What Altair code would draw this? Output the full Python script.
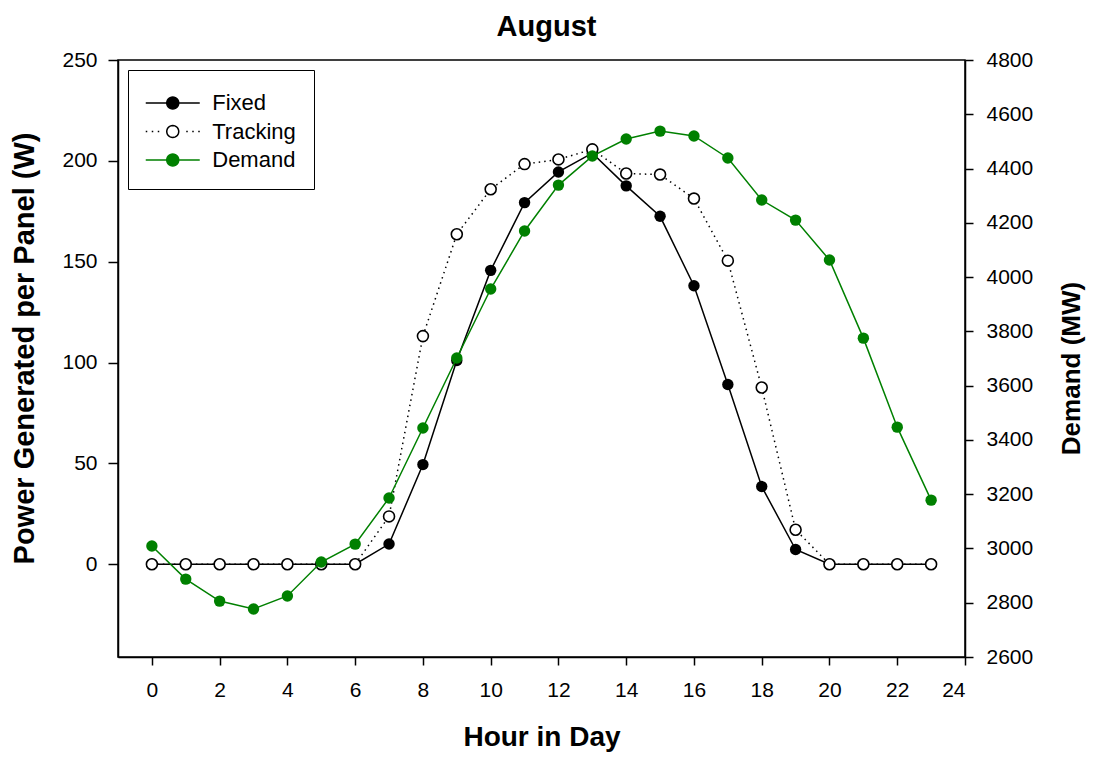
import math
import altair as alt
import pandas as pd

# ---------------- data ----------------
hours = list(range(24))
fixed = [0, 0, 0, 0, 0, 0, 0, 10.0, 49.4, 101.0, 145.7, 179.3, 194.5, 203.8,
         187.6, 172.5, 138.1, 89.1, 38.5, 7.3, 0, 0, 0, 0]
tracking = [0, 0, 0, 0, 0, 0, 0, 23.7, 113.1, 163.6, 185.9, 198.4, 200.7, 205.7,
            193.7, 193.2, 181.3, 150.5, 87.6, 17.1, 0, 0, 0, 0]
demand = [3009, 2887, 2806, 2777, 2825, 2950, 3016, 3186, 3444, 3702, 3956, 4170,
          4339, 4446, 4509, 4538, 4520, 4439, 4284, 4210, 4063, 3775, 3447, 3178]
series_names = ["Fixed", "Tracking", "Demand"]
x_ticks = list(range(0, 25, 2))
left_ticks = [0, 50, 100, 150, 200, 250]
right_ticks = list(range(2600, 4801, 200))

df = pd.DataFrame({"hour": hours, "fixed": fixed, "tracking": tracking, "demand": demand})
df_leg = pd.DataFrame({"series": series_names})

FONT = "Liberation Sans"
GREEN = "#008000"

# ---------------- legend symbols (line + marker) ----------------
S = 14.25  # sqrt(symbolSize)/2


def circle(r, n=28):
    pts = [(r * math.cos(2 * math.pi * i / n), r * math.sin(2 * math.pi * i / n)) for i in range(n)]
    return "M" + " L".join(f"{px:.3f},{py:.3f}" for px, py in pts) + " Z"


R = 6.0 / S
L = 27.0 / S
solid_path = f"M{-L:.3f},0 L{-R:.3f},0 M{R:.3f},0 L{L:.3f},0 " + circle(R)
dots = []
step = 6.0 / S
d = 1.5 / S
for side in (-1, 1):
    p = L
    while p > R + 0.25:
        a, b = side * p, side * (p - d)
        dots.append(f"M{a:.3f},0 L{b:.3f},0")
        p -= step
dotted_path = " ".join(dots) + " " + circle(R)

# ---------------- encodings ----------------
x_enc = alt.X(
    "hour:Q",
    scale=alt.Scale(domain=[-1, 24], nice=False, zero=False),
    axis=alt.Axis(title="Hour in Day", values=x_ticks, tickSize=8, labelPadding=14,
                  titlePadding=23, labelAngle=0),
)


def yl(field):
    return alt.Y(
        f"{field}:Q",
        scale=alt.Scale(domain=[-46, 250], nice=False, zero=False),
        axis=alt.Axis(title="Power Generated per Panel (W)", values=left_ticks, orient="left",
                      tickSize=10, labelPadding=11, titlePadding=22, titleFontSize=29,
                      titleY=288),
    )


yr = alt.Y(
    "demand:Q",
    scale=alt.Scale(domain=[2600, 4800], nice=False, zero=False),
    axis=alt.Axis(title="Demand (MW)", values=right_ticks, orient="right", tickSize=8,
                  labelPadding=13, titlePadding=52, titleAngle=270, format="d",
                  titleFontSize=26, titleY=308),
)

base = alt.Chart(df)

fixed_line = base.mark_line(color="black", strokeWidth=1.5).encode(x=x_enc, y=yl("fixed"))
fixed_pts = base.mark_point(filled=True, size=130, color="black", opacity=1).encode(x=x_enc, y=yl("fixed"))
track_line = base.mark_line(color="black", strokeWidth=1.5, strokeDash=[1.5, 4]).encode(x=x_enc, y=yl("tracking"))
track_pts = base.mark_point(filled=False, size=120, fill="white", stroke="black", strokeWidth=1.6,
                            opacity=1, fillOpacity=1).encode(x=x_enc, y=yl("tracking"))

legend_layer = alt.Chart(df_leg).transform_filter("false").mark_point(opacity=1).encode(
    shape=alt.Shape(
        "series:N",
        scale=alt.Scale(domain=series_names, range=[solid_path, dotted_path, solid_path]),
        legend=alt.Legend(
            title=None, orient="none", legendX=10, legendY=10,
            strokeColor="black", fillColor="white", padding=18,
            symbolSize=812, symbolStrokeWidth=1.5, symbolOffset=11.75,
            labelOffset=24.5, labelFont=FONT, labelFontSize=22, labelColor="black",
            rowPadding=2.5,
        ),
    ),
    fill=alt.Fill("series:N", scale=alt.Scale(domain=series_names, range=["black", "white", GREEN])),
    stroke=alt.Stroke("series:N", scale=alt.Scale(domain=series_names, range=["black", "black", GREEN])),
)

left = alt.layer(fixed_line, fixed_pts, track_line, track_pts, legend_layer)

dem_line = base.mark_line(color=GREEN, strokeWidth=1.5).encode(x=x_enc, y=yr)
dem_pts = base.mark_point(filled=True, size=130, color=GREEN, opacity=1).encode(x=x_enc, y=yr)
right = alt.layer(dem_line, dem_pts)

chart = (
    alt.layer(left, right)
    .resolve_scale(y="independent")
    .properties(
        width=847,
        height=597,
        autosize=alt.AutoSizeParams(type="none"),
        padding={"left": 110, "top": 52, "right": 123, "bottom": 96},
        title=alt.Title("August", fontSize=29, fontWeight="bold", font=FONT, color="black",
                        anchor="middle", offset=7, dx=5),
    )
    .configure_view(stroke="black", strokeWidth=1.5)
    .configure_axis(
        grid=False, domainColor="black", domainWidth=1.5, tickColor="black", tickWidth=1.5,
        labelColor="black", titleColor="black", labelFont=FONT, labelFontSize=21,
        titleFont=FONT, titleFontSize=28, titleFontWeight="bold",
    )
)

chart.save("out.html", embed_options={"renderer": "svg", "actions": False})
